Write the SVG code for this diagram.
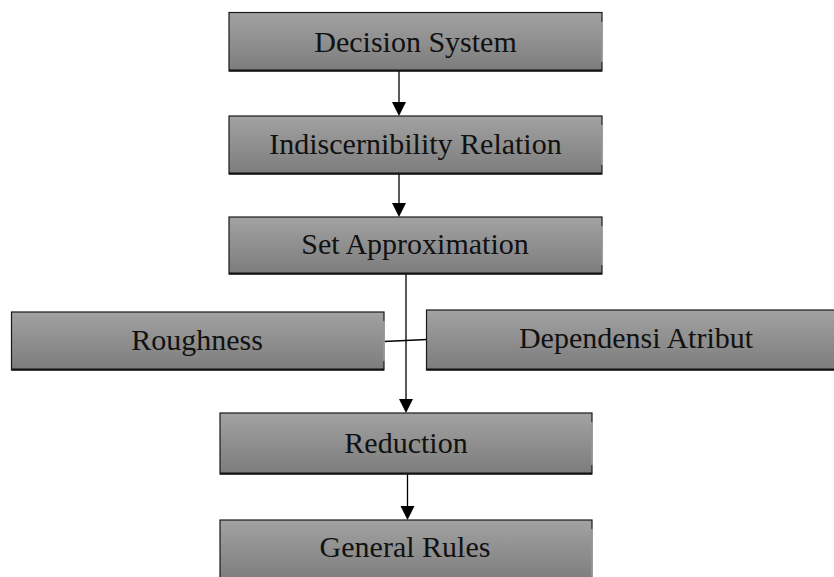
<svg xmlns="http://www.w3.org/2000/svg" width="834" height="577" viewBox="0 0 834 577">
  <defs>
    <linearGradient id="g" x1="0" y1="0" x2="0" y2="1">
      <stop offset="0" stop-color="#a2a2a2"/>
      <stop offset="1" stop-color="#7c7c7c"/>
    </linearGradient>
    <marker id="arr" markerWidth="14" markerHeight="16" refX="12" refY="7" orient="auto" markerUnits="userSpaceOnUse" viewBox="0 0 14 14">
      <path d="M0,0 L14,7 L0,14 Z" fill="#000"/>
    </marker>
  </defs>
  <style>
    .box { fill: url(#g); stroke: #1a1a1a; stroke-width: 1.2; }
    .bot { stroke: #111; stroke-width: 2; }
    .edge { stroke: #a8a8a8; stroke-width: 1.6; }
    .lbl { font-family: "Liberation Serif", "Times New Roman", serif; font-size: 30px; fill: #111; text-anchor: middle; }
    .con { stroke: #000; stroke-width: 1.3; fill: none; }
  </style>
  <rect width="834" height="577" fill="#fff"/>

  <g id="connectors">
    <line class="con" x1="399" y1="71" x2="399" y2="114" marker-end="url(#arr)"/>
    <line class="con" x1="399" y1="174" x2="399" y2="215" marker-end="url(#arr)"/>
    <line class="con" x1="406" y1="274" x2="406" y2="411" marker-end="url(#arr)"/>
    <line class="con" x1="384" y1="341.5" x2="427" y2="339.5"/>
    <line class="con" x1="407.5" y1="474" x2="407.5" y2="518" marker-end="url(#arr)"/>
  </g>

  <g id="decision-system">
    <rect class="box" x="229" y="12.5" width="373" height="58.5"/>
    <line class="bot" x1="229" y1="70.5" x2="602" y2="70.5"/>
    <line class="edge" x1="602" y1="22" x2="602" y2="62"/>
    <text class="lbl" x="415.5" y="52">Decision System</text>
  </g>

  <g id="indiscernibility-relation">
    <rect class="box" x="229" y="116" width="373" height="58"/>
    <line class="bot" x1="229" y1="173.5" x2="602" y2="173.5"/>
    <line class="edge" x1="602" y1="125" x2="602" y2="165"/>
    <text class="lbl" x="415.5" y="154">Indiscernibility Relation</text>
  </g>

  <g id="set-approximation">
    <rect class="box" x="229" y="217" width="373" height="57"/>
    <line class="bot" x1="229" y1="273.5" x2="602" y2="273.5"/>
    <line class="edge" x1="602" y1="226" x2="602" y2="265"/>
    <text class="lbl" x="415" y="254">Set Approximation</text>
  </g>

  <g id="roughness">
    <rect class="box" x="11.5" y="312" width="372.5" height="58"/>
    <line class="bot" x1="11.5" y1="369.5" x2="384" y2="369.5"/>
    <line class="edge" x1="384" y1="321" x2="384" y2="361"/>
    <text class="lbl" x="197" y="350">Roughness</text>
  </g>

  <g id="dependensi-atribut">
    <rect class="box" x="426.5" y="310" width="420" height="60"/>
    <line class="bot" x1="426.5" y1="369.5" x2="846" y2="369.5"/>
    <text class="lbl" x="636" y="348">Dependensi Atribut</text>
  </g>

  <g id="reduction">
    <rect class="box" x="220" y="413" width="372" height="61"/>
    <line class="bot" x1="220" y1="473.5" x2="592" y2="473.5"/>
    <line class="edge" x1="592" y1="422" x2="592" y2="465"/>
    <text class="lbl" x="406" y="453">Reduction</text>
  </g>

  <g id="general-rules">
    <rect class="box" x="220" y="520" width="372" height="62"/>
    <line class="edge" x1="592" y1="529" x2="592" y2="577"/>
    <text class="lbl" x="405" y="557">General Rules</text>
  </g>
</svg>
